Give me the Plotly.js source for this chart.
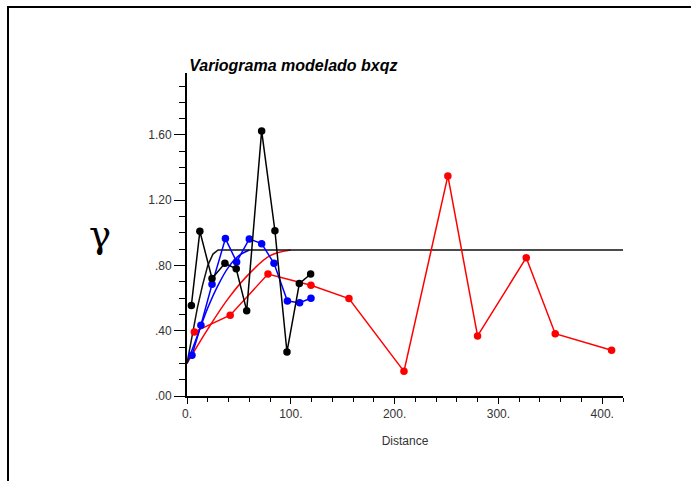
<!DOCTYPE html>
<html>
<head>
<meta charset="utf-8">
<script src="https://cdn.plot.ly/plotly-3.0.1.min.js"></script>
<style>
  html, body { margin: 0; padding: 0; background: #fff; }
  #chart { width: 691px; height: 481px; position: absolute; left: 0; top: 0; }
  #frame { position: absolute; left: 7px; top: 6px; width: 684px; height: 475px;
           border-top: 2px solid #000; border-left: 2px solid #000; pointer-events: none; box-sizing: border-box; }
</style>
</head>
<body>
<div id="chart"></div>
<div id="frame"></div>
<script>
const distBlack  = [4.2, 12.4, 24.1, 36.5, 47.4, 57.5, 71.9, 84.7, 96.3, 108.2, 119.1];
const gammaBlack = [0.555, 1.01, 0.72, 0.813, 0.78, 0.523, 1.625, 1.013, 0.27, 0.689, 0.748];

const distBlue   = [4.8, 13.4, 24.1, 37.0, 47.8, 60.0, 71.9, 83.8, 96.7, 108.5, 119.4];
const gammaBlue  = [0.25, 0.434, 0.685, 0.965, 0.822, 0.963, 0.934, 0.813, 0.582, 0.572, 0.599];

const distRed    = [7.1, 41.6, 78.0, 119.4, 156.0, 209.0, 251.3, 279.9, 326.8, 354.7, 409.0];
const gammaRed   = [0.393, 0.495, 0.748, 0.679, 0.597, 0.151, 1.349, 0.368, 0.848, 0.382, 0.28];

// Model curves
const modelBlackDist  = [0, 5, 10, 15, 20, 25, 30, 420];
const modelBlackGamma = [0.2, 0.37, 0.54, 0.68, 0.8, 0.87, 0.895, 0.895];
const modelBlueDist   = [0, 10, 20, 30, 40, 50, 60];
const modelBlueGamma  = [0.2, 0.37, 0.54, 0.68, 0.79, 0.86, 0.895];
const modelRedDist    = [0, 20, 40, 60, 80, 100];
const modelRedGamma   = [0.2, 0.41, 0.6, 0.75, 0.86, 0.895];

// Tick labels
const xTickVals = [0, 100, 200, 300, 400];
const xTickText = ['0.', '100.', '200.', '300.', '400.'];
const yTickVals = [0, 0.4, 0.8, 1.2, 1.6];
const yTickText = ['.00', '.40', '.80', '1.20', '1.60'];

const lineW = 1.5;
const traces = [
  {x: modelRedDist, y: modelRedGamma, mode: 'lines', line: {color: '#ff0000', width: lineW, shape: 'spline'}},
  {x: modelBlueDist, y: modelBlueGamma, mode: 'lines', line: {color: '#0000ff', width: lineW, shape: 'spline'}},
  {x: modelBlackDist, y: modelBlackGamma, mode: 'lines', line: {color: '#111', width: lineW}},
  {x: distRed, y: gammaRed, mode: 'lines+markers', line: {color: '#ff0000', width: lineW}, marker: {color: '#ff0000', size: 7.5}},
  {x: distBlue, y: gammaBlue, mode: 'lines+markers', line: {color: '#0000ff', width: lineW}, marker: {color: '#0000ff', size: 7.5}},
  {x: distBlack, y: gammaBlack, mode: 'lines+markers', line: {color: '#000', width: lineW}, marker: {color: '#000', size: 7.5}}
];

const layout = {
  width: 691, height: 481,
  margin: {l: 187, r: 68, t: 73, b: 85},
  paper_bgcolor: '#fff', plot_bgcolor: '#fff',
  showlegend: false,
  font: {family: 'Liberation Sans, Arial, sans-serif', color: '#222'},
  title: {text: '<b><i>Variograma modelado bxqz</i></b>', font: {size: 16, color: '#000'},
          xref: 'paper', x: 0.005, xanchor: 'left', yref: 'container', y: 0.864, yanchor: 'middle'},
  xaxis: {
    range: [0, 420], showgrid: false, zeroline: false,
    showline: true, linecolor: '#000', linewidth: 2,
    tickmode: 'array', tickvals: xTickVals, ticktext: xTickText,
    ticks: 'outside', ticklen: 6, tickwidth: 1, tickcolor: '#000',
    minor: {dtick: 20, ticks: 'outside', ticklen: 4, tickwidth: 1, tickcolor: '#000', showgrid: false},
    tickfont: {size: 12, color: '#333'},
    title: {text: 'Distance', font: {size: 12, color: '#333'}, standoff: 16}
  },
  yaxis: {
    range: [0, 1.98], showgrid: false, zeroline: false,
    showline: true, linecolor: '#000', linewidth: 2,
    tickmode: 'array', tickvals: yTickVals, ticktext: yTickText,
    ticks: 'outside', ticklen: 11, tickwidth: 1, tickcolor: '#000',
    minor: {dtick: 0.1, ticks: 'outside', ticklen: 6, tickwidth: 1, tickcolor: '#000', showgrid: false},
    tickfont: {size: 12, color: '#333'},
    ticklabelstandoff: 0
  },
  annotations: [
    {text: 'γ', xref: 'paper', yref: 'paper', x: -0.23, y: 0.5, showarrow: false,
     font: {family: 'DejaVu Serif, Liberation Serif, serif', size: 37, color: '#000'}}
  ]
};

Plotly.newPlot('chart', traces, layout, {displayModeBar: false, staticPlot: true});
</script>
</body>
</html>
